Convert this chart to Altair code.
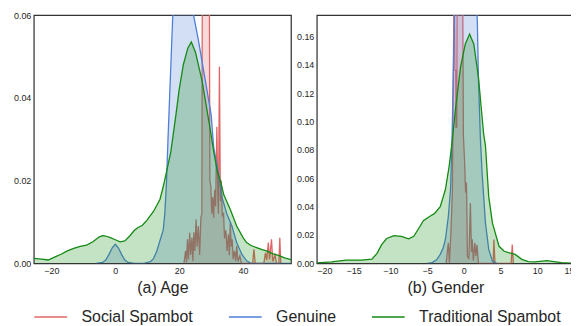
import altair as alt
import pandas as pd

SERIES = ["Social Spambot", "Genuine", "Traditional Spambot"]
COLORS = ["#e06666", "#4f7fd6", "#138a13"]

# ---------------- (a) Age ----------------
age_social_x = [21.5, 22.0, 22.3, 22.6, 22.9, 23.3, 23.6, 24.0, 24.3, 24.6, 24.9, 25.3, 25.6, 26.0, 26.4,
                26.8, 27.1, 27.3, 28.0, 29.0, 29.4, 29.6, 29.9, 30.2, 30.5, 30.8, 31.1, 31.4, 31.8, 32.1,
                32.3, 32.6, 32.9, 33.2, 33.5, 33.9, 34.2, 34.6, 35.0, 35.4, 35.7, 36.0, 36.3, 36.6, 36.9,
                37.3, 37.7, 38.0, 38.4, 39.0, 39.5, 43.0, 43.4, 43.8, 46.5, 47.0, 47.4, 47.9, 48.3, 48.9,
                49.3, 50.0, 50.5, 51.2, 51.5, 51.8]
age_social_y = [0.0, 0.003, 0.0002, 0.0058, 0.001, 0.0074, 0.002, 0.0062, 0.0005, 0.0075, 0.003, 0.0106, 0.004, 0.009, 0.002,
                0.011, 0.012, 0.09, 0.10, 0.09, 0.085, 0.02, 0.0186, 0.012, 0.016, 0.011, 0.0178, 0.0138, 0.033, 0.016,
                0.012, 0.0475, 0.015, 0.02, 0.0115, 0.012, 0.006, 0.008, 0.003, 0.007, 0.002, 0.0098, 0.004, 0.0058, 0.001,
                0.003, 0.0005, 0.0042, 0.0005, 0.0018, 0.0, 0.0, 0.0034, 0.0, 0.0, 0.0025, 0.0008, 0.005, 0.001, 0.0058,
                0.0005, 0.002, 0.0, 0.0, 0.0062, 0.0]

age_genuine_x = [-6, -4, -3, -2, -1, 0, 1, 2, 3, 4, 6, 9, 11, 12, 13, 14, 15, 15.5, 16, 16.5, 17, 17.5, 18,
                 18.5, 19, 20, 21, 22, 23, 24, 24.5, 26, 28, 30, 30.8, 32.3, 33.4, 34.9, 36.5, 38, 39.6, 41.1, 42.5, 55]
age_genuine_y = [0.0, 0.0002, 0.0008, 0.0021, 0.0037, 0.0046, 0.0037, 0.0021, 0.0008, 0.0002, 0.0, 0.0, 0.0004, 0.0012,
                 0.003, 0.0055, 0.008, 0.012, 0.019, 0.03, 0.04, 0.05, 0.06, 0.066, 0.074, 0.082, 0.087, 0.088, 0.083,
                 0.068, 0.06, 0.054, 0.045, 0.036, 0.028, 0.0218, 0.016, 0.012, 0.009, 0.005, 0.0022, 0.0006, 0.0, 0.0]

age_trad_x = [-25.5, -23, -21, -19, -17, -15, -13, -11, -9, -7, -5, -4, -3, -1.5, 0, 1.5, 3, 4.5, 6, 7, 8.5, 10,
              12, 14, 15, 16, 17.4, 19, 20, 21.3, 22.7, 23.8, 25.1, 26, 27.2, 28.5, 29.8, 30.8, 32, 32.9, 34, 36,
              38, 40, 41.1, 42.5, 44.2, 46, 47.3, 49, 51.5, 53, 55]
age_trad_y = [0.0012, 0.001, 0.0008, 0.0015, 0.0022, 0.003, 0.0036, 0.0041, 0.0044, 0.0052, 0.0064, 0.0067, 0.0066,
              0.0062, 0.0057, 0.0052, 0.0054, 0.0066, 0.008, 0.0086, 0.0092, 0.0105, 0.0126, 0.0155, 0.0185, 0.022,
              0.027, 0.036, 0.042, 0.048, 0.052, 0.0535, 0.051, 0.048, 0.044, 0.038, 0.032, 0.027, 0.022, 0.020,
              0.0165, 0.013, 0.009, 0.0062, 0.005, 0.0043, 0.0038, 0.0033, 0.003, 0.0024, 0.0018, 0.0013, 0.0009]

# ---------------- (b) Gender ----------------
gen_social_x = [-2.4, -2.1, -1.95, -1.75, -1.55, -1.32, -1.26, -1.2, -1.1, -1.05, -0.95, -0.88, -0.5, -0.2,
                -0.05, 0.1, 0.25, 0.37, 0.5, 0.7, 0.9, 1.05, 1.15, 1.3, 1.5, 1.65, 1.8, 2.0, 4.0, 4.1, 4.25,
                6.45, 6.6, 6.75]
gen_social_y = [0.0, 0.0145, 0.0005, 0.0215, 0.05, 0.20, 0.20, 0.136, 0.136, 0.096, 0.096, 0.25, 0.30, 0.25,
                0.09, 0.073, 0.05, 0.057, 0.005, 0.003, 0.0425, 0.008, 0.017, 0.002, 0.0145, 0.005, 0.013, 0.0,
                0.0, 0.0168, 0.0, 0.0, 0.0133, 0.0]

gen_genuine_x = [-5, -4.3, -3.7, -3.2, -2.8, -2.5, -2.1, -1.8, -1.6, -1.4, -1.25, -0.8, 0.0, 0.8, 1.5, 1.85,
                 2.0, 2.27, 2.5, 2.95, 3.4, 3.9, 4.5]
gen_genuine_y = [0.0, 0.0005, 0.0025, 0.0063, 0.011, 0.0168, 0.033, 0.052, 0.087, 0.14, 0.18, 0.25, 0.29, 0.27,
                 0.22, 0.17, 0.13, 0.087, 0.0635, 0.0285, 0.0098, 0.0016, 0.0]

gen_trad_x = [-20, -18, -16, -14, -12.5, -11.8, -11.2, -10.5, -9.5, -8.5, -7.5, -6.8, -6.2, -5.5, -4.5, -4.0,
              -3.2, -2.5, -2.0, -1.6, -1.1, -0.45, 0.2, 0.8, 1.37, 2.0, 2.7, 2.95, 3.4, 3.9, 4.8, 5.5, 6.1, 7.0,
              7.9, 8.8, 9.7, 11.3, 13.3, 15]
gen_trad_y = [0.0003, 0.001, 0.0023, 0.0023, 0.003, 0.007, 0.013, 0.0175, 0.0195, 0.019, 0.0172, 0.019, 0.024,
              0.030, 0.0335, 0.035, 0.040, 0.052, 0.068, 0.085, 0.110, 0.138, 0.1545, 0.1616, 0.1545, 0.131,
              0.0915, 0.083, 0.047, 0.0285, 0.012, 0.0085, 0.0075, 0.0063, 0.0028, 0.0012, 0.001, 0.0019,
              0.0005, 0.0001]

age_ticks_x = [-20, 0, 20, 40]
age_ticks_y = [0.0, 0.02, 0.04, 0.06]
gen_ticks_x = [-20, -15, -10, -5, 0, 5, 10, 15]
gen_ticks_y = [0.0, 0.02, 0.04, 0.06, 0.08, 0.10, 0.12, 0.14, 0.16]

FONT = "Liberation Sans"
TXT = "#262626"

color_scale = alt.Scale(domain=SERIES, range=COLORS)
legend = alt.Legend(orient="none", legendX=9, legendY=296, direction="horizontal", title=None,
                    symbolType="M-3,0H3", symbolSize=121, symbolStrokeWidth=1.5,
                    labelFontSize=16, labelFont=FONT, labelColor=TXT, labelOffset=23,
                    columnPadding=32, padding=0)


def panel(data, xdom, ydom, xticks, yticks, title):
    xenc = alt.X("x:Q", scale=alt.Scale(domain=xdom, nice=False, zero=False),
                 axis=alt.Axis(values=xticks, title=title, labelExpr="replace(datum.label, '-', '−')"))
    yenc = alt.Y("y:Q", scale=alt.Scale(domain=ydom, nice=False),
                 axis=alt.Axis(values=yticks, format=".2f", title=None, minExtent=22, maxExtent=22))
    layers = []
    for name, col, (xs, ys) in zip(SERIES, COLORS, data):
        d = pd.DataFrame({"x": xs, "y": ys, "series": name})
        layers.append(alt.Chart(d).mark_area(clip=True, color=col, fillOpacity=0.25).encode(x=xenc, y=yenc))
        layers.append(alt.Chart(d).mark_line(clip=True, strokeWidth=1.3).encode(
            x=xenc, y=yenc, color=alt.Color("series:N", scale=color_scale, legend=legend)))
    return alt.layer(*layers).properties(width=259, height=250)


a = panel([(age_social_x, age_social_y), (age_genuine_x, age_genuine_y), (age_trad_x, age_trad_y)],
          [-25.5, 55], [0, 0.06], age_ticks_x, age_ticks_y, "(a) Age")
b = panel([(gen_social_x, gen_social_y), (gen_genuine_x, gen_genuine_y), (gen_trad_x, gen_trad_y)],
          [-20, 15], [0, 0.175], gen_ticks_x, gen_ticks_y, "(b) Gender")

chart = (
    alt.hconcat(a, b, spacing=2)
    .properties(padding={"left": 3, "top": 1, "right": -4, "bottom": 0})
    .configure_view(stroke="#333333", strokeWidth=1.25)
    .configure_axis(grid=False, domain=False, ticks=False, labelFont=FONT, labelFontSize=9,
                    labelColor=TXT, labelPadding=3, titleFont=FONT, titleFontSize=16,
                    titleFontWeight="normal", titleColor=TXT, titlePadding=4)
)

chart.save("out.html", embed_options={"renderer": "svg", "actions": False})
